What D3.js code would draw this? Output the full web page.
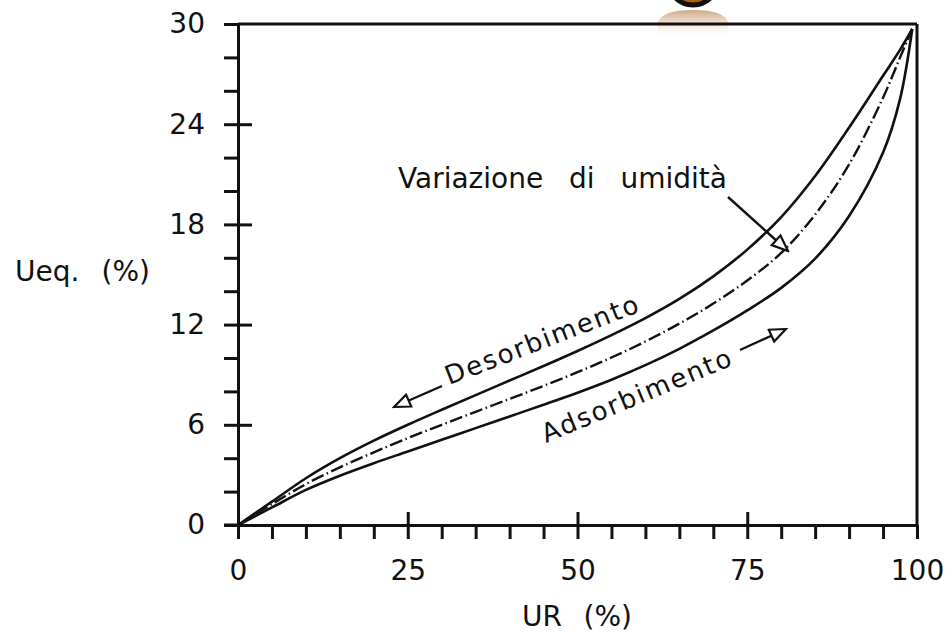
<!DOCTYPE html>
<html>
<head>
<meta charset="utf-8">
<script src="https://cdn.jsdelivr.net/npm/d3@7"></script>
<style>
  html, body { margin: 0; padding: 0; background: #fff; }
  svg text { font-family: "DejaVu Sans", sans-serif; fill: #111; }
</style>
</head>
<body>
<div id="chart"></div>
<script>
// relative humidity (%) sampled along the curves
const rh = [0, 5, 10, 15, 20, 25, 30, 35, 40, 45, 50, 55, 60, 65, 70, 75, 80, 85, 90, 95, 97.5, 99.3];
// equilibrium moisture content (%)
const desorbimento = [0, 1.4, 2.8, 4.0, 5.05, 6.0, 6.9, 7.78, 8.65, 9.52, 10.42, 11.37, 12.39, 13.54, 14.89, 16.49, 18.44, 20.9, 23.8, 26.9, 28.45, 29.7];
const media        = [0, 1.25, 2.45, 3.45, 4.35, 5.2, 6.0, 6.78, 7.55, 8.33, 9.15, 10.03, 10.99, 12.06, 13.26, 14.64, 16.29, 18.59, 21.59, 25.59, 27.99, 29.7];
const adsorbimento = [0, 1.05, 2.1, 2.95, 3.7, 4.4, 5.1, 5.8, 6.5, 7.2, 7.92, 8.7, 9.57, 10.55, 11.65, 12.85, 14.2, 15.95, 18.5, 22.3, 25.5, 29.7];

const xMajor = [0, 25, 50, 75, 100];
const xMinor = [5, 10, 15, 20, 30, 35, 40, 45, 55, 60, 65, 70, 80, 85, 90, 95];
const yMajor = [0, 6, 12, 18, 24, 30];
const yMinor = [2, 4, 8, 10, 14, 16, 20, 22, 26, 28];

const width = 950, height = 635;
const svg = d3.select("#chart").append("svg")
    .attr("width", width)
    .attr("height", height);

const x = d3.scaleLinear().domain([0, 100]).range([238, 917]);
const y = d3.scaleLinear().domain([0, 30]).range([525, 24]);

// arrow head marker (open triangle)
const defs = svg.append("defs");
defs.append("marker")
    .attr("id", "head")
    .attr("markerUnits", "userSpaceOnUse")
    .attr("viewBox", "-18 -8 20 16")
    .attr("markerWidth", 20).attr("markerHeight", 16)
    .attr("refX", 0).attr("refY", 0)
    .attr("orient", "auto")
  .append("path")
    .attr("d", "M0,0 L-16,-6.5 L-16,6.5 Z")
    .attr("fill", "#fff")
    .attr("stroke", "#111")
    .attr("stroke-width", 2.2);

// photo artefact at the top
const grad = defs.append("linearGradient")
    .attr("id", "glow").attr("x1", 0).attr("x2", 0).attr("y1", 0).attr("y2", 1);
grad.append("stop").attr("offset", "0%").attr("stop-color", "#b98a62").attr("stop-opacity", 0.75);
grad.append("stop").attr("offset", "55%").attr("stop-color", "#e9c7a8").attr("stop-opacity", 0.45);
grad.append("stop").attr("offset", "100%").attr("stop-color", "#fff").attr("stop-opacity", 0);
svg.append("path")
    .attr("d", "M658,37 L658,22 Q662,10 693,10 Q724,10 728,22 L728,37 Z")
    .attr("fill", "url(#glow)");

// frame
const frame = svg.append("g").attr("stroke", "#111").attr("stroke-width", 3).attr("fill", "none");
frame.append("line").attr("x1", x(0)).attr("x2", x(100)).attr("y1", y(30)).attr("y2", y(30));
frame.append("line").attr("x1", x(100)).attr("x2", x(100)).attr("y1", y(30)).attr("y2", y(0));

svg.append("circle")
    .attr("cx", 693).attr("cy", -20).attr("r", 25)
    .attr("fill", "#b4600c")
    .attr("stroke", "#111").attr("stroke-width", 5);

// axes
function styleAxis(g) {
    g.select(".domain").attr("stroke", "#111").attr("stroke-width", 3);
    g.selectAll(".tick line").attr("stroke", "#111").attr("stroke-width", 3);
    g.selectAll(".tick text").style("font-size", "28px").attr("fill", "#111");
}

svg.append("g")
    .attr("transform", `translate(0,${y(0)})`)
    .call(d3.axisBottom(x).tickValues(xMinor).tickSize(14).tickFormat("").tickSizeOuter(0))
    .call(styleAxis);
const xAx = svg.append("g")
    .attr("transform", `translate(0,${y(0)})`)
    .call(d3.axisBottom(x).tickValues(xMajor).tickSize(14).tickPadding(21).tickSizeOuter(0))
    .call(styleAxis);
xAx.select(".domain").remove();
xAx.selectAll(".tick line").attr("y1", d => d === 100 ? 0 : -13);
svg.append("line")
    .attr("x1", 224).attr("x2", x(0))
    .attr("y1", y(0)).attr("y2", y(0))
    .attr("stroke", "#111").attr("stroke-width", 3);

svg.append("g")
    .attr("transform", `translate(${x(0)},0)`)
    .call(d3.axisLeft(y).tickValues(yMinor).tickSize(14).tickFormat("").tickSizeOuter(0))
    .call(styleAxis);
const yAx = svg.append("g")
    .attr("transform", `translate(${x(0)},0)`)
    .call(d3.axisLeft(y).tickValues(yMajor).tickSize(14).tickPadding(19).tickSizeOuter(0))
    .call(styleAxis);
yAx.select(".domain").remove();
yAx.selectAll(".tick line").attr("x1", d => (d === 30 || d === 0) ? 0 : 14);

// curves
const line = d3.line()
    .x((d, i) => x(rh[i]))
    .y(d => y(d))
    .curve(d3.curveCatmullRom.alpha(0.5));

const curves = svg.append("g").attr("fill", "none").attr("stroke", "#111");
curves.append("path").attr("d", line(desorbimento)).attr("stroke-width", 2.6);
curves.append("path").attr("d", line(adsorbimento)).attr("stroke-width", 2.6);
curves.append("path").attr("d", line(media)).attr("stroke-width", 2.4)
    .attr("stroke-dasharray", "13,3.5,1.5,3.5");

// labels: wide gaps between words, as in the drawing
function label(txt, xPos, yPos, target, size) {
    const t = svg.append("text")
        .attr("x", xPos).attr("y", yPos)
        .style("font-size", size + "px")
        .text(txt);
    const spaces = txt.split(" ").length - 1;
    const extra = target - t.node().getComputedTextLength();
    if (spaces > 0) t.style("word-spacing", (extra / spaces) + "px");
    return t;
}
label("Ueq. (%)", 15, 281, 135, 28);
label("UR (%)", 522, 626, 110, 28);
label("Variazione di umidità", 398, 188, 329, 28);

svg.append("text")
    .attr("transform", "translate(449,385) rotate(-21)")
    .attr("textLength", 205).attr("lengthAdjust", "spacing")
    .style("font-size", "26px")
    .text("Desorbimento");

svg.append("text")
    .attr("transform", "translate(546,443) rotate(-22.6)")
    .attr("textLength", 203).attr("lengthAdjust", "spacing")
    .style("font-size", "26px")
    .text("Adsorbimento");

// arrows
const arrows = [
    [[442, 386], [394, 407]],
    [[740, 350], [786, 329]],
    [[728, 197], [788, 251]]
];
svg.append("g").selectAll("line")
    .data(arrows)
    .join("line")
    .attr("x1", d => d[0][0]).attr("y1", d => d[0][1])
    .attr("x2", d => d[1][0]).attr("y2", d => d[1][1])
    .attr("stroke", "#111").attr("stroke-width", 2.4)
    .attr("marker-end", "url(#head)");
</script>
</body>
</html>
